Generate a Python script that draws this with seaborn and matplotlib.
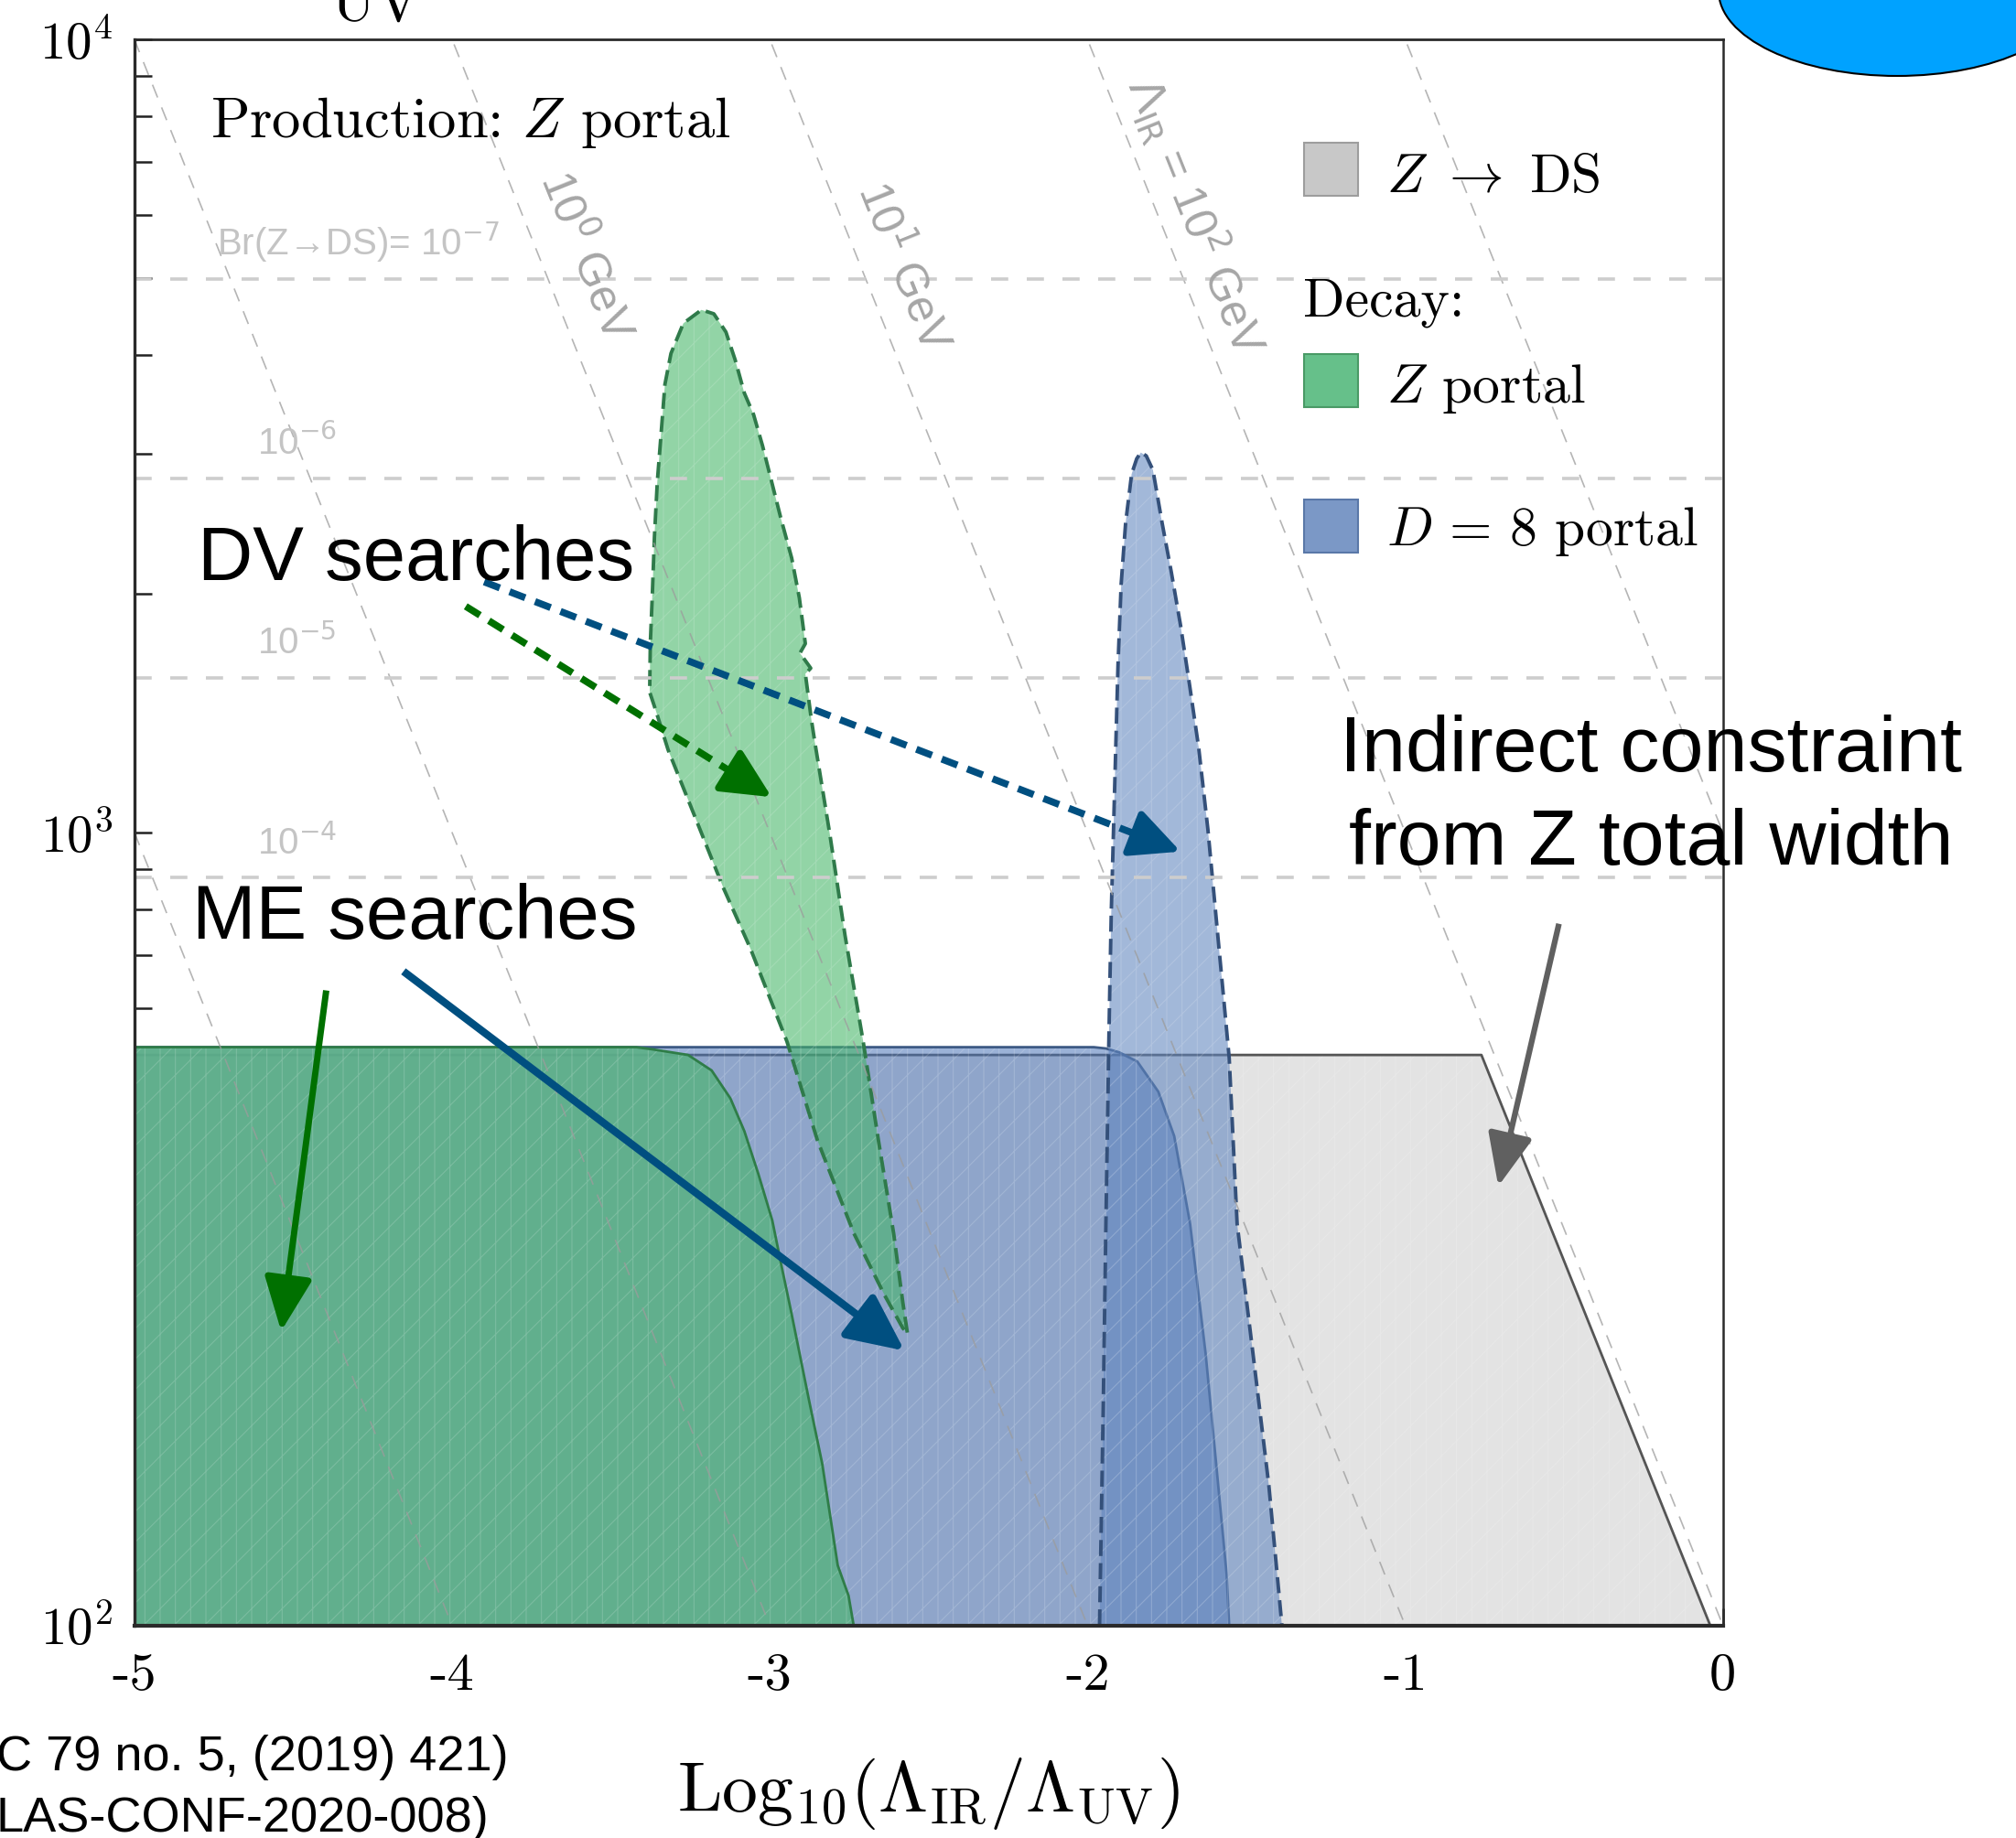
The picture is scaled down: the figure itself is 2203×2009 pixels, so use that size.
import numpy as np
import matplotlib
matplotlib.use("Agg")
import matplotlib.pyplot as plt
from matplotlib.patches import Rectangle, Ellipse
import seaborn as sns

# ---------------- data ----------------
x_ticks = [-5, -4, -3, -2, -1, 0]
x_tick_labels = ["-5", "-4", "-3", "-2", "-1", "0"]
x_minor_ticks = [-4.5, -3.5, -2.5, -1.5, -0.5]
y_ticks = [1e2, 1e3, 1e4]
y_tick_labels = [r"$10^2$", r"$10^3$", r"$10^4$"]

# indirect bound from the total Z width (Z -> DS)
zds_x = [-5.0, -0.76, -0.04]
zds_lam = [524, 524, 100]

# missing-energy (ME) reach, D = 8 portal decay
me_d8_x = [-5.0, -1.98, -1.942, -1.90, -1.843, -1.777, -1.727, -1.677, -1.628,
           -1.595, -1.562, -1.554]
me_d8_lam = [536, 536, 534, 528, 514, 471, 414, 321, 220, 160, 116, 100]

# missing-energy (ME) reach, Z portal decay
me_z_x = [-5.0, -3.42, -3.374, -3.257, -3.183, -3.124, -3.080, -3.036, -2.992,
          -2.963, -2.933, -2.904, -2.875, -2.835, -2.786, -2.752, -2.736]
me_z_lam = [536, 536, 533, 524, 501, 462, 420, 371, 324, 284, 249, 218, 191,
            160, 119, 109, 100]

# displaced-vertex (DV) reach, D = 8 portal decay (open contour on the x axis)
dv_d8_x = [-1.962, -1.950, -1.942, -1.933, -1.930, -1.925, -1.918, -1.911,
           -1.904, -1.894, -1.880, -1.861, -1.845, -1.832, -1.815, -1.794,
           -1.765, -1.736, -1.707, -1.678, -1.650, -1.621, -1.597, -1.573,
           -1.554, -1.529, -1.479, -1.429, -1.388]
dv_d8_lam = [100, 193, 321, 538, 628, 796, 1009, 1279, 1622, 2056, 2455, 2831,
             2960, 3013, 2985, 2864, 2455, 2128, 1824, 1528, 1279, 1009, 796,
             628, 520, 321, 220, 150, 100]

# displaced-vertex (DV) reach, Z portal decay (closed contour)
dv_z_x = [-2.567, -2.581, -2.610, -2.658, -2.706, -2.763, -2.811, -2.859,
          -2.869, -2.888, -2.871, -2.905, -2.888, -2.907, -2.931, -2.965,
          -2.994, -3.023, -3.051, -3.080, -3.109, -3.138, -3.176, -3.215,
          -3.272, -3.311, -3.330, -3.341, -3.354, -3.363, -3.370, -3.376,
          -3.378, -3.359, -3.320, -3.224, -3.147, -3.061, -2.946, -2.850,
          -2.735, -2.639, -2.581, -2.567]
dv_z_lam = [234, 255, 312, 409, 545, 741, 995, 1306, 1387, 1585, 1611, 1683,
            1730, 1977, 2218, 2489, 2767, 3076, 3365, 3581, 3945, 4276, 4508,
            4560, 4385, 4018, 3673, 3221, 2767, 2360, 1977, 1730, 1503, 1426,
            1271, 1019, 853, 714, 545, 409, 312, 261, 237, 234]

# guide lines of constant Lambda_IR [GeV]
lam_ir_levels = [1e-3, 1e-2, 1e-1, 1e0, 1e1, 1e2, 1e3]
lam_ir_labels = [r"10$^{0}$ GeV", r"10$^{1}$ GeV", r"$\Lambda_{\rm IR}$ = 10$^{2}$ GeV"]
lam_ir_label_pos = [(-3.58, 5318), (-2.58, 5163), (-1.658, 5982)]

# guide lines of constant Br(Z -> DS)
br_lam = [4990, 2795, 1567, 877]
br_labels = [r"Br(Z→DS)= 10$^{-7}$", r"10$^{-6}$", r"10$^{-5}$", r"10$^{-4}$"]
br_label_x = [-4.74, -4.6135, -4.6135, -4.6135]

# annotation arrows: (start, end)
arrow_dv_z = ((-3.957, 1928), (-2.994, 1108))
arrow_dv_d8 = ((-3.899, 2070), (-1.707, 946))
arrow_me_z = ((-4.396, 632), (-4.538, 235))
arrow_me_d8 = ((-4.153, 668), (-2.576, 222))
arrow_zw = ((-0.516, 767), (-0.707, 358))

# ---------------- style ----------------
sns.set_theme(style="white")
plt.rcParams.update({
    "font.family": ["cmr10", "DejaVu Sans"],
    "mathtext.fontset": "cm",
    "axes.unicode_minus": False,
    "axes.formatter.use_mathtext": True,
    "hatch.linewidth": 0.8,
    "figure.facecolor": "white",
    "text.color": "black",
    "axes.labelcolor": "black",
    "xtick.color": "black",
    "ytick.color": "black",
})
SANS = ["Liberation Sans", "DejaVu Sans"]

fig = plt.figure(figsize=(22.03, 20.09), dpi=100)
ax = fig.add_axes([0.06664, 0.11568, 0.78797, 0.86286])
ax.set_yscale("log")
ax.set_xlim(-5, 0)
ax.set_ylim(100, 1e4)

MESH = (1, 1, 1, 0.16)


def region_between(x, top, face, alpha, edge, z):
    ax.fill_between(x, 100, top, facecolor=face, alpha=alpha, linewidth=0, zorder=z)
    ax.fill_between(x, 100, top, facecolor="none", edgecolor=MESH, hatch="|/",
                    linewidth=0, zorder=z + 0.01)
    sns.lineplot(x=x, y=top, ax=ax, color=edge, lw=2.0, sort=False,
                 estimator=None, zorder=z + 0.02)


def region_poly(x, y, face, alpha, edge, z):
    ax.fill(x, y, facecolor=face, alpha=alpha, linewidth=0, zorder=z)
    ax.fill(x, y, facecolor="none", edgecolor=MESH, hatch="|/", linewidth=0,
            zorder=z + 0.01)
    sns.lineplot(x=x, y=y, ax=ax, color=edge, lw=2.8, sort=False, estimator=None,
                 linestyle=(0, (4.5, 2.0)), zorder=z + 0.02)


# Z -> DS (gray)
region_between(zds_x, zds_lam, "#e3e3e3", 1.0, "#555555", 1)
# ME reaches
region_between(me_d8_x, me_d8_lam, "#4a73b6", 0.55, "#3d5a85", 2)
region_between(me_z_x, me_z_lam, "#5db088", 0.92, "#2f7d48", 3)
# DV reaches
region_poly(dv_d8_x, dv_d8_lam, "#5f85bf", 0.58, "#34507a", 4)
region_poly(dv_z_x, dv_z_lam, "#43b566", 0.58, "#2f7a4a", 5)

# constant Lambda_IR guide lines
for lam in lam_ir_levels:
    sns.lineplot(x=[-5.0, 0.0], y=[lam * 1e5, lam], ax=ax, color="#9c9c9c",
                 lw=1.2, alpha=0.75, linestyle=(0, (9, 7)), estimator=None,
                 sort=False, zorder=6)

# constant Br guide lines
for lam in br_lam:
    ax.axhline(lam, color="#cdcdcd", lw=2.6, linestyle=(0, (5.2, 5.6)), zorder=6)

# labels of the guide lines
p0 = ax.transData.transform((-3.0, 1000.0))
p1 = ax.transData.transform((-2.0, 100.0))
ang = np.degrees(np.arctan2(p1[1] - p0[1], p1[0] - p0[0]))
for lab, (xx, yy) in zip(lam_ir_labels, lam_ir_label_pos):
    ax.text(xx, yy, lab, rotation=ang, rotation_mode="anchor", ha="center",
            va="center", fontsize=36, color="#a6a6a6", family=SANS,
            math_fontfamily="dejavusans", zorder=7)
for lab, xx, lam in zip(br_labels, br_label_x, br_lam):
    ax.text(xx, lam * 1.07, lab, ha="left", va="baseline", fontsize=29,
            color="#c4c4c4", family=SANS, math_fontfamily="dejavusans", zorder=7)

# axes styling
ax.set_xticks(x_ticks, labels=x_tick_labels)
ax.set_xticks(x_minor_ticks, minor=True)
ax.set_yticks(y_ticks, labels=y_tick_labels)
ax.yaxis.set_minor_locator(matplotlib.ticker.LogLocator(base=10, subs=np.arange(2, 10)))
ax.yaxis.set_minor_formatter(matplotlib.ticker.NullFormatter())
ax.tick_params(which="both", direction="in", length=14, width=1.8,
               color="#222222", bottom=True, left=True, top=False, right=False)
ax.tick_params(axis="x", which="major", labelsize=42, pad=22, labelcolor="black")
ax.tick_params(axis="y", which="major", labelsize=41, pad=17, labelcolor="black")
for lab in ax.get_xticklabels():
    lab.set_family("cmr10")
for side, lw in [("left", 2.4), ("bottom", 3.0), ("top", 2.0), ("right", 1.8)]:
    ax.spines[side].set_color("#2a2a2a")
    ax.spines[side].set_linewidth(lw)
    ax.spines[side].set_zorder(20)
ax.grid(False)

ax.set_xlabel(r"$\mathrm{Log}_{10}(\Lambda_{\mathrm{IR}}/\Lambda_{\mathrm{UV}})$",
              fontsize=56, color="black")
ax.xaxis.set_label_coords(0.5, -0.1058)
ax.xaxis.label.set_va("center")

# title text inside the frame
ax.text(0.0477, 0.9384, r"Production: $Z$ portal", transform=ax.transAxes,
        fontsize=45, va="baseline", family="cmr10", color="black", zorder=12)

# legend
leg_items = [("#c8c8c8", "#9d9d9d", 0.9012, r"$Z\ \rightarrow\ \mathrm{DS}$", 0.9038),
             ("#66c08a", "#4a9a66", 0.7682, r"$Z$ portal", 0.7712),
             ("#7b98c6", "#5a78a8", 0.6767, r"$D\,=\,8$ portal", 0.6811)]
for face, edge, yb, lab, ytxt in leg_items:
    ax.add_patch(Rectangle((0.7366, yb), 0.03353, 0.03346, transform=ax.transAxes,
                           facecolor=face, edgecolor=edge, lw=1.5, zorder=12))
    ax.text(0.7882, ytxt, lab, transform=ax.transAxes, fontsize=43,
            va="baseline", family="cmr10", color="black", zorder=12)
ax.text(0.7356, 0.8253, "Decay:", transform=ax.transAxes, fontsize=43,
        va="baseline", family="cmr10", color="black", zorder=12)


# annotation arrows: shaft (solid or dashed) plus a solid filled head
def arrow(pair, color, lw, dashed, hl=3.4, hw=1.6):
    (xs, ys), (xe, ye) = pair
    s = ax.transData.transform((xs, ys))
    e = ax.transData.transform((xe, ye))
    u = (e - s) / np.hypot(*(e - s))
    head_px = hl * 10 * fig.dpi / 72.0
    inv = ax.transData.inverted()
    base = inv.transform(e - u * head_px * 0.9)
    near = inv.transform(e - u * (head_px + 6))
    ax.plot([xs, base[0]], [ys, base[1]], color=color, lw=lw,
            linestyle=(0, (2.4, 1.5)) if dashed else "-",
            solid_capstyle="butt", dash_capstyle="butt", zorder=15)
    ax.annotate("", xy=(xe, ye), xytext=(near[0], near[1]), xycoords="data",
                textcoords="data", zorder=15,
                arrowprops=dict(arrowstyle=f"-|>,head_length={hl},head_width={hw}",
                                mutation_scale=10, lw=lw, color=color,
                                shrinkA=0, shrinkB=0))


arrow(arrow_dv_z, "#007000", 5.5, True, hl=3.3, hw=1.6)
arrow(arrow_dv_d8, "#004f80", 5.5, True, hl=3.3, hw=1.6)
arrow(arrow_me_z, "#007000", 5.0, False, hl=3.6, hw=1.6)
arrow(arrow_me_d8, "#004f80", 6.0, False, hl=3.8, hw=1.8)
arrow(arrow_zw, "#606060", 4.5, False, hl=3.5, hw=1.5)

ax.text(0.0399, 0.6591, "DV searches", transform=ax.transAxes, fontsize=60,
        family=SANS, va="baseline", color="black", zorder=16)
ax.text(0.0363, 0.4329, "ME searches", transform=ax.transAxes, fontsize=60,
        family=SANS, va="baseline", color="black", zorder=16)
fig.text(0.8189, 0.5804, "Indirect constraint", ha="center", va="baseline",
         fontsize=62, family=SANS, color="black", zorder=16)
fig.text(0.8189, 0.5296, "from Z total width", ha="center", va="baseline",
         fontsize=62, family=SANS, color="black", zorder=16)

# page furniture around the plot
fig.text(0.1643, 0.98855, "UV", fontsize=47, family="cmr10", va="baseline",
         color="black")
fig.text(-0.002, 0.0438, "C 79 no. 5, (2019) 421)", fontsize=39, family=SANS,
         va="center", ha="left", color="black")
fig.text(-0.002, 0.01045, "LAS-CONF-2020-008)", fontsize=39, family=SANS,
         va="center", ha="left", color="black")
fig.add_artist(Ellipse((0.94099, 1.004978), 0.17703, 0.09258,
                       transform=fig.transFigure, facecolor="#00a2ff",
                       edgecolor="black", lw=1.5))

fig.savefig("out.png", dpi=100)
